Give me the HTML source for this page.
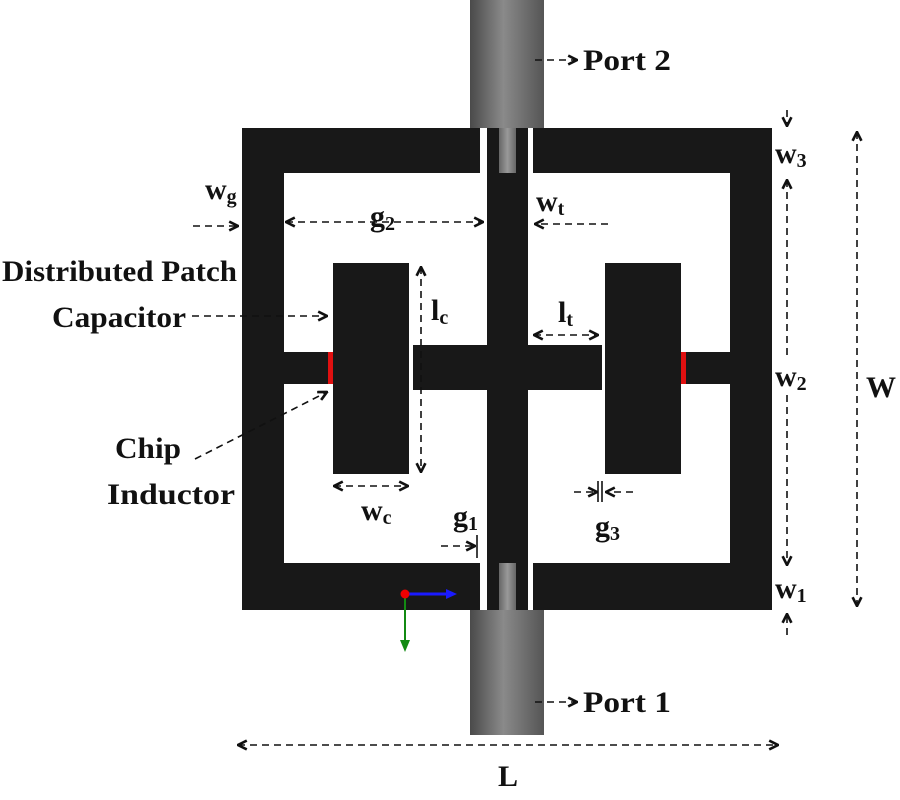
<!DOCTYPE html>
<html><head><meta charset="utf-8"><style>
html,body{margin:0;padding:0;background:#fff;}
svg{display:block;}
text{font-family:"Liberation Serif",serif;font-weight:bold;fill:#111;}
</style></head><body>
<svg width="900" height="800" viewBox="0 0 900 800" xmlns="http://www.w3.org/2000/svg">
<defs>
<linearGradient id="cx" x1="0" x2="1" y1="0" y2="0">
<stop offset="0" stop-color="#4a4a4a"/><stop offset="0.45" stop-color="#8a8a8a"/><stop offset="1" stop-color="#555"/>
</linearGradient>
<linearGradient id="pin" x1="0" x2="1"><stop offset="0" stop-color="#666"/><stop offset="0.5" stop-color="#999"/><stop offset="1" stop-color="#666"/></linearGradient>
<marker id="ah" viewBox="0 0 10 10" refX="9" refY="5" markerWidth="11" markerHeight="11" orient="auto-start-reverse" markerUnits="userSpaceOnUse"><path d="M1,1 L9,5 L1,9" fill="none" stroke="#111" stroke-width="2.4"/></marker>
</defs>
<rect x="470" y="0" width="74" height="128" fill="url(#cx)"/>
<rect x="470" y="610" width="74" height="125" fill="url(#cx)"/>
<path fill="#181818" fill-rule="evenodd" d="M242,128 H480 V173 H284 V352 H333 V384 H284 V563 H480 V610 H242 Z"/>
<path fill="#181818" d="M533,128 H772 V610 H533 V563 H730 V384 H681 V352 H730 V173 H533 Z"/>
<rect x="487" y="128" width="41" height="482" fill="#181818"/>
<rect x="499" y="128" width="17" height="45" fill="url(#pin)"/>
<rect x="499" y="563" width="17" height="47" fill="url(#pin)"/>
<rect x="413" y="345" width="189" height="45" fill="#181818"/>
<rect x="333" y="263" width="76" height="211" fill="#181818"/>
<rect x="605" y="263" width="76" height="211" fill="#181818"/>
<rect x="328" y="352" width="5" height="32" fill="#e01010"/>
<rect x="681" y="352" width="5" height="32" fill="#e01010"/>
<line x1="405" y1="594" x2="448" y2="594" stroke="#1a1aff" stroke-width="3"/>
<path d="M446,589 L457,594 L446,599 Z" fill="#1a1aff"/>
<line x1="405" y1="594" x2="405" y2="642" stroke="#138a13" stroke-width="2"/>
<path d="M400,640 L405,652 L410,640 Z" fill="#138a13"/>
<circle cx="405" cy="594" r="4.5" fill="#e00"/>
<g stroke="#111" stroke-width="1.6" stroke-dasharray="7,5" fill="none">
<line x1="535" y1="60" x2="577" y2="60" marker-end="url(#ah)"/>
<line x1="535" y1="702" x2="577" y2="702" marker-end="url(#ah)"/>
<line x1="787" y1="110" x2="787" y2="126" marker-end="url(#ah)"/>
<line x1="787" y1="180" x2="787" y2="360" marker-start="url(#ah)"/>
<line x1="787" y1="395" x2="787" y2="565" marker-end="url(#ah)"/>
<line x1="787" y1="635" x2="787" y2="614" marker-end="url(#ah)"/>
<line x1="857" y1="132" x2="857" y2="606" marker-start="url(#ah)" marker-end="url(#ah)"/>
<line x1="238" y1="745" x2="778" y2="745" marker-start="url(#ah)" marker-end="url(#ah)"/>
<line x1="193" y1="226" x2="238" y2="226" marker-end="url(#ah)"/>
<line x1="286" y1="222" x2="483" y2="222" marker-start="url(#ah)" marker-end="url(#ah)"/>
<line x1="608" y1="224" x2="535" y2="224" marker-end="url(#ah)"/>
<line x1="421" y1="267" x2="421" y2="472" marker-start="url(#ah)" marker-end="url(#ah)"/>
<line x1="534" y1="335" x2="598" y2="335" marker-start="url(#ah)" marker-end="url(#ah)"/>
<line x1="334" y1="486" x2="408" y2="486" marker-start="url(#ah)" marker-end="url(#ah)"/>
<line x1="441" y1="546" x2="475" y2="546" marker-end="url(#ah)"/>
<line x1="574" y1="492" x2="597" y2="492" marker-end="url(#ah)"/>
<line x1="633" y1="492" x2="606" y2="492" marker-end="url(#ah)"/>
<line x1="192" y1="316" x2="327" y2="316" marker-end="url(#ah)"/>
<line x1="195" y1="459" x2="327" y2="392" marker-end="url(#ah)"/>
</g>
<g stroke="#111" stroke-width="1.6">
<line x1="477" y1="535" x2="477" y2="558"/>
<line x1="598" y1="481" x2="598" y2="502"/>
<line x1="602" y1="481" x2="602" y2="502"/>
</g>
<g font-size="30">
<text x="583" y="70" textLength="88" lengthAdjust="spacingAndGlyphs">Port 2</text>
<text x="583" y="712" textLength="88" lengthAdjust="spacingAndGlyphs">Port 1</text>
<text x="2" y="281" textLength="235" lengthAdjust="spacingAndGlyphs">Distributed Patch</text>
<text x="52" y="327" textLength="134" lengthAdjust="spacingAndGlyphs">Capacitor</text>
<text x="115" y="458" textLength="66" lengthAdjust="spacingAndGlyphs">Chip</text>
<text x="107" y="504" textLength="128" lengthAdjust="spacingAndGlyphs">Inductor</text>
<text x="866" y="397">W</text>
<text x="498" y="786">L</text>
<text x="775" y="163">w<tspan font-size="20" dy="4">3</tspan></text>
<text x="775" y="386">w<tspan font-size="20" dy="4">2</tspan></text>
<text x="775" y="598">w<tspan font-size="20" dy="4">1</tspan></text>
<text x="205" y="199">w<tspan font-size="20" dy="4">g</tspan></text>
<text x="370" y="226">g<tspan font-size="20" dy="4">2</tspan></text>
<text x="536" y="211">w<tspan font-size="20" dy="4">t</tspan></text>
<text x="431" y="320">l<tspan font-size="20" dy="4">c</tspan></text>
<text x="558" y="322">l<tspan font-size="20" dy="4">t</tspan></text>
<text x="361" y="520">w<tspan font-size="20" dy="4">c</tspan></text>
<text x="453" y="526">g<tspan font-size="20" dy="4">1</tspan></text>
<text x="595" y="536">g<tspan font-size="20" dy="4">3</tspan></text>
</g>
</svg>
</body></html>
